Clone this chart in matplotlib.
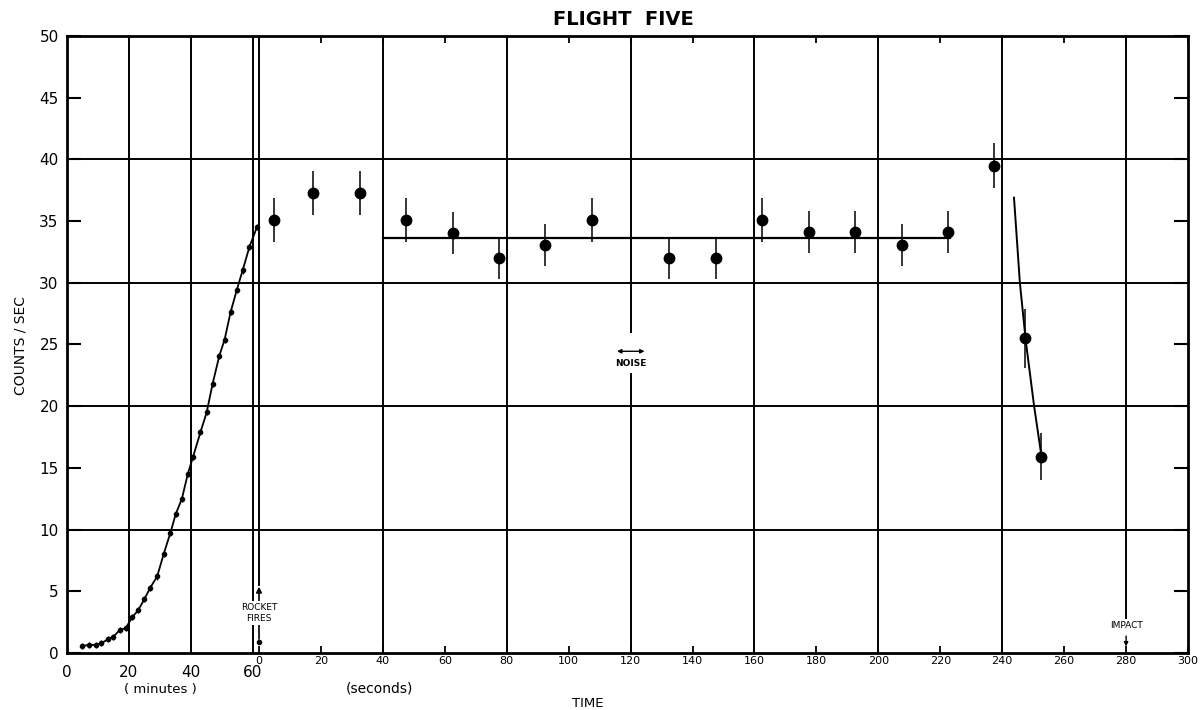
import numpy as np
import matplotlib
matplotlib.use("Agg")
from matplotlib import pyplot as plt

# ascent phase, time in minutes
min_t = [4.9, 7.0, 9.2, 11.1, 13.1, 15.0, 17.0, 18.9, 21.1, 23.0, 25.0, 26.9, 29.1, 31.2,
         33.4, 35.1, 37.1, 39.0, 40.7, 43.1, 45.1, 47.0, 49.2, 50.9, 52.8, 54.8, 56.7,
         58.9, 61.3]
min_c = [0.57, 0.65, 0.65, 0.78, 1.1, 1.32, 1.86, 2.0, 2.9, 3.48, 4.37, 5.3, 6.2, 8.0,
         9.75, 11.25, 12.5, 14.5, 15.9, 17.9, 19.5, 21.8, 24.1, 25.4, 27.6, 29.4, 31.0,
         32.9, 34.5]

# rocket flight, time in seconds after firing
sec_t = [5, 17.5, 32.5, 47.5, 62.5, 77.5, 92.5, 107.5, 132.5, 147.5, 162.5, 177.5,
         192.5, 207.5, 222.5, 237.5, 247.5, 252.5]
sec_c = [35.1, 37.3, 37.3, 35.1, 34.0, 32.0, 33.1, 35.1, 32.0, 32.0, 35.1, 34.1,
         34.1, 33.1, 34.1, 39.5, 25.5, 15.9]
sec_err = [1.8, 1.8, 1.8, 1.8, 1.7, 1.7, 1.7, 1.8, 1.7, 1.7, 1.8, 1.7,
           1.7, 1.7, 1.7, 1.8, 2.4, 1.9]

# plateau level and the fall-off at re-entry
plateau = 33.6
plateau_t = [40, 223]
fall_t = [243.8, 245.7, 247.6, 250.3, 252.7]
fall_c = [36.9, 30.0, 25.3, 20.0, 15.9]

sec_ticks = list(range(0, 301, 20))
min_ticks = [0, 20, 40, 60]

# minutes and seconds share one axis, the seconds part is shifted right
OFF = 62.0
def s2u(s):
    return np.asarray(s, dtype=float) + OFF

fig = plt.figure(figsize=(12.01, 7.10), dpi=100)
ax = fig.add_axes([0.0558, 0.0803, 0.9334, 0.8690])
ax.set_xlim(0, OFF + 300)
ax.set_ylim(0, 50)

gl = dict(color="black", lw=1.4, zorder=1)
for y in [10, 20, 30, 40]:
    ax.axhline(y, **gl)
for m in [20, 40, 60]:
    ax.axvline(m, **gl)
for s in range(40, 281, 40):
    if s == 280:
        ax.axvline(s2u(s), ymin=2.75 / 50, **gl)
    elif s == 120:
        ax.axvline(s2u(s), ymin=26.0 / 50, **gl)
        ax.axvline(s2u(s), ymax=22.6 / 50, **gl)
    else:
        ax.axvline(s2u(s), **gl)
ax.axvline(OFF, ymin=5.5 / 50, **gl)

# ascent curve
ax.plot(min_t, min_c, color="black", lw=1.3, zorder=3)
ax.errorbar(min_t, min_c, yerr=0.25, fmt="o", ms=3, color="black",
            elinewidth=1, capsize=0, zorder=4)

# flight points
ax.errorbar(s2u(sec_t), sec_c, yerr=sec_err, fmt="o", ms=7.5, color="black",
            elinewidth=1.1, capsize=0, zorder=4)
ax.plot(s2u(plateau_t), [plateau, plateau], color="black", lw=1.6, zorder=3)
ax.plot(s2u(fall_t), fall_c, color="black", lw=1.4, zorder=3)

# annotations
ax.annotate("", xy=(OFF, 5.6), xytext=(OFF, 0.9),
            arrowprops=dict(arrowstyle="-|>", color="black", lw=1.2,
                            mutation_scale=8), zorder=2)
ax.plot([OFF], [0.9], "o", ms=3, color="black", zorder=4)
ax.text(OFF, 3.25, "ROCKET\nFIRES", ha="center", va="center", fontsize=6.5,
        linespacing=1.3, zorder=5,
        bbox=dict(fc="white", ec="none", pad=1.5))

ax.text(s2u(280), 2.2, "IMPACT", ha="center", va="center", fontsize=6.5, zorder=5,
        bbox=dict(fc="white", ec="none", pad=1.5))
ax.annotate("", xy=(s2u(280), 0.3), xytext=(s2u(280), 1.6),
            arrowprops=dict(arrowstyle="-|>", color="black", lw=1.0,
                            mutation_scale=6), zorder=5)

ax.annotate("", xy=(s2u(114.7), 24.45), xytext=(s2u(125.4), 24.45),
            arrowprops=dict(arrowstyle="<|-|>", color="black", lw=1.0,
                            mutation_scale=6), zorder=5)
ax.text(s2u(120), 23.5, "NOISE", ha="center", va="center", fontsize=6.5,
        fontweight="bold", zorder=5)

# axes styling
for sp in ax.spines.values():
    sp.set_linewidth(2)

ax.set_yticks(range(0, 51, 5))
ax.tick_params(axis="y", direction="in", length=10, width=1.5, labelsize=11,
               right=True, pad=6)

ax.set_xticks(s2u(sec_ticks), [str(s) for s in sec_ticks])
ax.tick_params(axis="x", which="major", direction="in", length=5, width=1.3,
               labelsize=8, top=True, pad=2)
ax.set_xticks(min_ticks, [str(m) for m in min_ticks], minor=True)
ax.tick_params(axis="x", which="minor", length=0, labelsize=11, pad=9)

xt = ax.get_xaxis_transform()
ax.text(30, -0.059, "( minutes )", transform=xt, ha="center", va="center", fontsize=9.5)
ax.text(s2u(39), -0.058, "(seconds)", transform=xt, ha="center", va="center", fontsize=10)
ax.text(s2u(106), -0.082, "TIME", transform=xt, ha="center", va="center", fontsize=9.5)

fig.text(0.519, 0.972, "FLIGHT  FIVE", ha="center", va="center", fontsize=14,
         fontweight="bold")
fig.text(0.017, 0.514, "COUNTS / SEC", rotation=90, ha="center", va="center",
         fontsize=10)

fig.savefig("out.png", dpi=100)
